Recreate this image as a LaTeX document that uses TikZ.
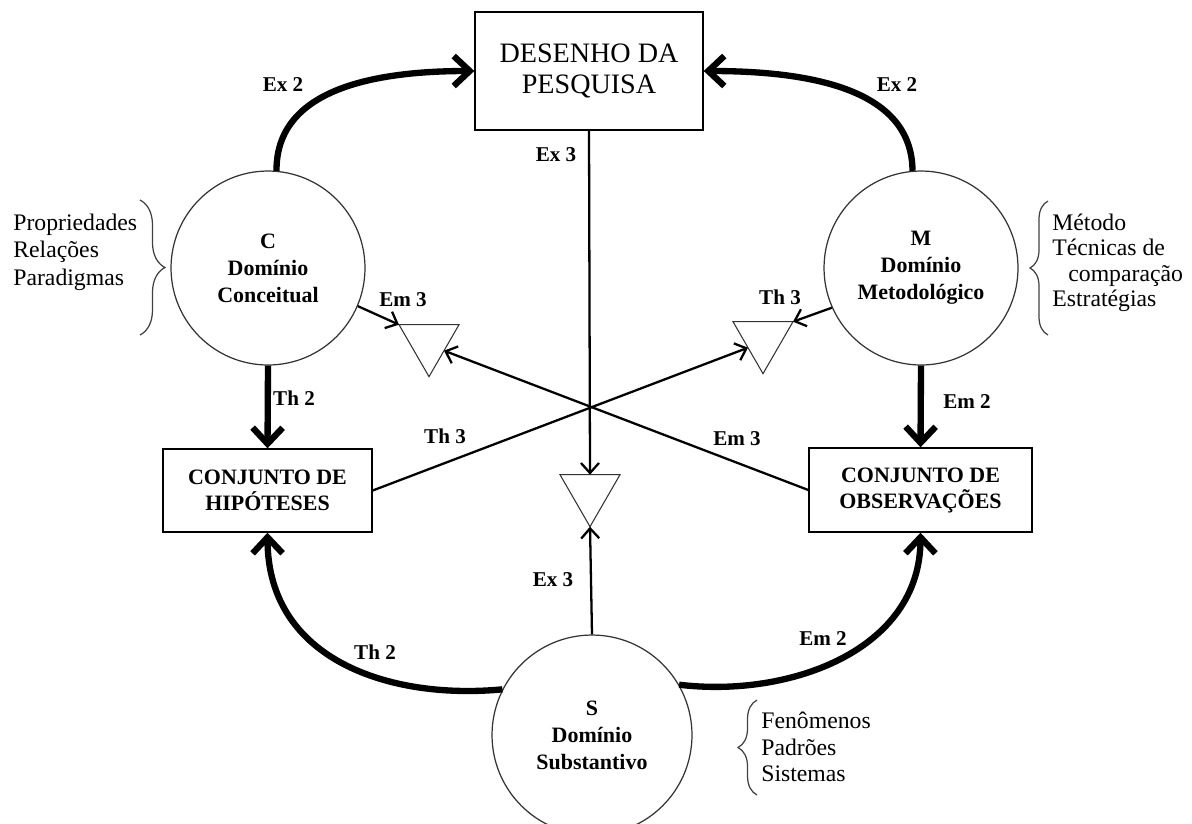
\documentclass[tikz,border=0pt]{standalone}
\usepackage{fontspec}
\setmainfont{Liberation Serif}
\usetikzlibrary{arrows.meta,calc,shapes.geometric,decorations.pathreplacing}

\begin{document}
\begin{tikzpicture}[x=0.02cm, y=-0.02cm,
    realm/.style={circle, draw=black!80, line width=0.7pt, minimum size=3.88cm, inner sep=0pt, align=center, font=\bfseries\fontsize{12.5}{15.4}\selectfont},
    setbox/.style={draw, line width=0.8pt, inner sep=0pt, align=center, font=\bfseries\fontsize{12.5}{14.8}\selectfont},
    gate/.style={regular polygon, regular polygon sides=3, shape border rotate=180, draw=black!80, line width=0.6pt, minimum size=1.386cm, inner sep=0pt, outer sep=0pt},
    flow/.style={line width=3.6pt, -{Straight Barb[length=3.2mm, width=6mm]}},
    link/.style={line width=1.3pt, -{Straight Barb[length=2mm, width=3.6mm]}},
    lab/.style={font=\bfseries\fontsize{12}{14}\selectfont, inner sep=0pt},
    side/.style={align=left, font=\fontsize{13.5}{15.6}\selectfont, inner sep=0pt},
    curly/.style={decorate, decoration={brace, amplitude=#1}, line width=0.7pt, draw=black!75}]
    \useasboundingbox (0,0) rectangle (1192,823);

    % Research design
    \node[setbox, minimum width=4.56cm, minimum height=2.36cm, font=\fontsize{16}{17.6}\selectfont] (des) at (589,71) {DESENHO DA\\PESQUISA};

    % Domains
    \node[realm] (C) at (268,268) {C\\Domínio\\Conceitual};
    \node[realm] (M) at (921,268) {M\\Domínio\\Metodológico};
    \node[realm, minimum size=4cm] (S) at (592,735) {S\\Domínio\\Substantivo};

    % Sets
    \node[setbox, minimum width=4.18cm, minimum height=1.66cm] (hip) at (267.5,490.5) {CONJUNTO DE\\HIPÓTESES};
    \node[setbox, minimum width=4.46cm, minimum height=1.68cm] (obs) at (920.5,490) {CONJUNTO DE\\OBSERVAÇÕES};

    % Triangles
    \node[gate] (tl) at (429,342) {};
    \node[gate] (tr) at (763,339) {};
    \node[gate] (tc) at (590,492) {};

    % Thick arrows
    \draw[flow] (C.85) .. controls (276,95) and (360,71) .. (des.west);
    \draw[flow] (M.95) .. controls (912,95) and (825,71) .. (des.east);
    \draw[flow] (C.south) -- (hip.north);
    \draw[flow] (M.south) -- (obs.north);
    \draw[flow] (S.153) .. controls (390,700) and (268,660) .. (hip.south);
    \draw[flow] (S.30) .. controls (790,698) and (920,650) .. (obs.south);

    % Thin arrows
    \draw[link] (des.south) -- ($(tc.corner 2)!0.5!(tc.corner 3)$);
    \draw[link] (S.north) -- (tc.corner 1);
    \draw[link] (hip.east) -- ($(tr.corner 3)!0.5!(tr.corner 1)$);
    \draw[link] (obs.west) -- ($(tl.corner 1)!0.5!(tl.corner 2)$);
    \draw[link] (C.-23) -- (tl.corner 3);
    \draw[link] (M.204) -- (tr.corner 2);

    % Labels
    \node[lab] (ex2l) at (283,85) {Ex 2};
    \node[lab] (ex2r) at (897,85) {Ex 2};
    \node[lab] (ex3t) at (556,155) {Ex 3};
    \node[lab] (ex3b) at (553,580) {Ex 3};
    \node[lab] (th2t) at (294,398) {Th 2};
    \node[lab] (em2t) at (967,402) {Em 2};
    \node[lab] (th2b) at (375,652) {Th 2};
    \node[lab] (em2b) at (823,638) {Em 2};
    \node[lab] (em3t) at (403,300) {Em 3};
    \node[lab] (th3t) at (780,297) {Th 3};
    \node[lab] (th3m) at (445,436) {Th 3};
    \node[lab] (em3m) at (737,439) {Em 3};

    % Braces
    \node[side, anchor=west] (cprops) at (13,252) {Propriedades\\Relações\\Paradigmas};
    \draw[curly=0.5cm] (140,200) -- (140,335);
    \node[side, anchor=west, font=\fontsize{13.5}{14.5}\selectfont] (mprops) at (1052,263) {Método\\Técnicas de\\\hspace*{0.32cm}comparação\\Estratégias};
    \draw[curly=0.36cm] (1048,335) -- (1048,201);
    \node[side, anchor=west, font=\fontsize{13.5}{15}\selectfont] (sprops) at (761,747) {Fenômenos\\Padrões\\Sistemas};
    \draw[curly=0.38cm] (757,795) -- (757,700);
\end{tikzpicture}
\end{document}
